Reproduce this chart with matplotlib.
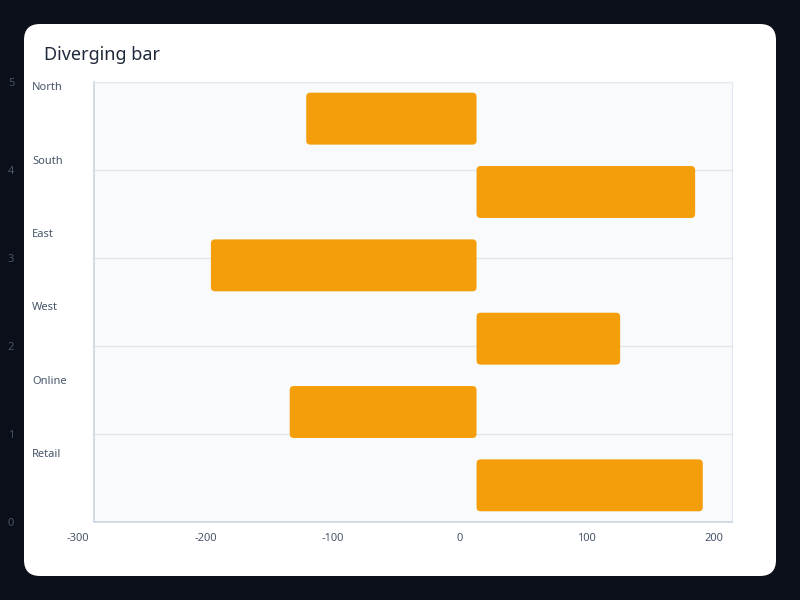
import matplotlib
matplotlib.use("Agg")
import matplotlib.pyplot as plt
from matplotlib.patches import FancyBboxPatch
import matplotlib.transforms as mtrans

categories = ["North", "South", "East", "West", "Online", "Retail"]
values = [-134, 172, -209, 113, -147, 178]
xticks = [-300, -200, -100, 0, 100, 200]
yticks = [0, 1, 2, 3, 4, 5]

fig = plt.figure(figsize=(8, 6), dpi=100)
fig.patch.set_facecolor("#0b0f1a")
bg = fig.add_axes([0, 0, 1, 1], zorder=0)
bg.set_xlim(0, 800); bg.set_ylim(0, 600); bg.axis("off")
bg.add_patch(FancyBboxPatch((24, 24), 752, 552, boxstyle="round,pad=0,rounding_size=16",
                            facecolor="white", edgecolor="none"))
bg.text(44, 600-55, "Diverging bar", fontsize=13, color="#1e293b", va="center", family="Noto Sans")

ax = fig.add_axes([94/800, 78/600, 638/800, 440/600], zorder=1)
ax.set_facecolor("#f8fafc")
ax.set_xlim(-301, 201)
ax.set_ylim(0, 5)
for s in ["top", "right"]:
    ax.spines[s].set_color("#e2e8f0")
for s in ["left", "bottom"]:
    ax.spines[s].set_color("#cbd5e1")
    ax.spines[s].set_linewidth(1.2)
ax.set_yticks(yticks)
ax.set_yticklabels([str(t) for t in yticks])
ax.set_xticks(xticks)
ax.set_xticklabels([str(t) for t in xticks])
ax.tick_params(length=0, labelsize=8, labelcolor="#475569")
ax.tick_params(axis="y", pad=62)
for lab in ax.get_yticklabels():
    lab.set_horizontalalignment("left")
    lab.set_family("Noto Sans")
for lab in ax.get_xticklabels():
    lab.set_family("Noto Sans")
    lab.set_transform(lab.get_transform() + mtrans.ScaledTranslation(-17/100, -6/100, fig.dpi_scale_trans))
ax.grid(axis="y", color="#e2e8f0", linewidth=1)
ax.set_axisbelow(True)

n = len(categories)
band = 5 / n
h = 0.59
for i, (c, v) in enumerate(zip(categories, values)):
    yc = 5 - (i + 0.5) * band
    x0 = min(0, v)
    p = FancyBboxPatch((x0, yc - h/2), abs(v), h, boxstyle="round,pad=0,rounding_size=3.2",
                       mutation_aspect=0.0142, facecolor="#f59e0b", edgecolor="none", zorder=3)
    ax.add_patch(p)
    ax.text(-0.097, 5 - (i + 0.08) * band, c, transform=ax.get_yaxis_transform(), fontsize=8,
            color="#475569", ha="left", va="center", family="Noto Sans", clip_on=False)

fig.savefig("out.png", dpi=100, facecolor=fig.get_facecolor())
